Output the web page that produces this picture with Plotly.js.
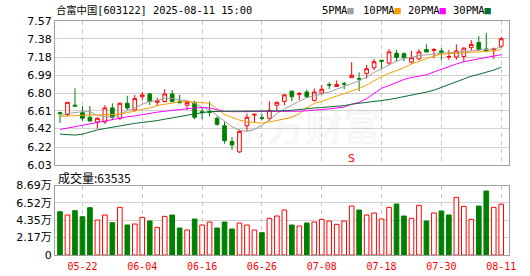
<!DOCTYPE html>
<html><head><meta charset="utf-8">
<script src="https://cdn.plot.ly/plotly-3.0.1.min.js"></script>
<style>html,body{margin:0;padding:0;background:#fff}#chart{width:530px;height:276px}</style>
</head><body><div id="chart"></div>
<script>
const dates = ['05-19','05-20','05-21','05-22','05-23','05-26','05-27','05-28','05-29','05-30',
'06-03','06-04','06-05','06-06','06-09','06-10','06-11','06-12','06-13','06-16',
'06-17','06-18','06-19','06-20','06-23','06-24','06-25','06-26','06-27','06-30',
'07-01','07-02','07-03','07-04','07-07','07-08','07-09','07-10','07-11','07-14',
'07-15','07-16','07-17','07-18','07-21','07-22','07-23','07-24','07-25','07-28',
'07-29','07-30','07-31','08-01','08-04','08-05','08-06','08-07','08-08','08-11'];

const openP = [6.59,6.57,6.67,6.59,6.54,6.49,6.49,6.64,6.53,6.69,
6.62,6.76,6.79,6.70,6.71,6.79,6.71,6.67,6.69,6.60,
6.60,6.53,6.45,6.28,6.17,6.45,6.565,6.535,6.53,6.67,
6.71,6.82,6.785,6.81,6.72,6.80,6.89,6.87,6.90,6.964,
6.955,7.01,7.07,7.15,7.12,7.225,7.22,7.13,7.165,7.265,
7.255,7.25,7.185,7.185,7.19,7.285,7.34,7.27,7.26,7.30];
const highP = [6.60,6.70,6.85,6.66,6.66,6.54,6.67,6.69,6.70,6.77,
6.78,6.81,6.80,6.75,6.84,6.83,6.78,6.72,6.72,6.65,
6.71,6.55,6.49,6.33,6.41,6.58,6.575,6.58,6.71,6.71,
6.79,6.82,6.81,6.835,6.85,6.885,6.915,6.935,6.92,7.13,
7.02,7.10,7.165,7.155,7.27,7.26,7.235,7.25,7.27,7.32,
7.28,7.28,7.26,7.32,7.29,7.365,7.41,7.44,7.285,7.40];
const lowP = [6.48,6.55,6.66,6.50,6.50,6.42,6.47,6.51,6.51,6.62,
6.60,6.72,6.67,6.66,6.70,6.70,6.69,6.62,6.52,6.52,
6.55,6.45,6.26,6.19,6.16,6.39,6.49,6.51,6.50,6.61,
6.67,6.71,6.725,6.745,6.71,6.78,6.84,6.865,6.84,6.96,
6.82,6.955,7.045,7.055,7.10,7.135,7.14,7.115,7.15,7.235,
7.17,7.15,7.155,7.155,7.13,7.25,7.25,7.235,7.165,7.285];
const closeP = [6.58,6.70,6.66,6.53,6.50,6.53,6.64,6.54,6.69,6.64,
6.74,6.78,6.71,6.72,6.79,6.71,6.695,6.70,6.54,6.59,
6.595,6.465,6.29,6.245,6.39,6.54,6.572,6.53,6.615,6.70,
6.78,6.76,6.795,6.76,6.81,6.84,6.885,6.89,6.895,6.99,
6.95,7.06,7.135,7.14,7.24,7.18,7.175,7.18,7.24,7.238,
7.265,7.235,7.19,7.25,7.28,7.32,7.265,7.255,7.27,7.38];

const ma5 = [6.56,6.58,6.59,6.60,6.60,6.56,6.55,6.54,6.57,6.61,
6.64,6.68,6.71,6.72,6.745,6.74,6.725,6.72,6.69,6.65,
6.62,6.56,6.50,6.44,6.40,6.39,6.41,6.455,6.51,6.58,
6.63,6.67,6.71,6.75,6.77,6.79,6.81,6.84,6.87,6.90,
6.93,6.97,7.02,7.06,7.10,7.14,7.17,7.18,7.20,7.21,
7.22,7.225,7.23,7.235,7.24,7.25,7.26,7.265,7.27,7.29];
const ma10 = [6.55,6.555,6.557,6.56,6.565,6.565,6.568,6.57,6.575,6.59,
6.61,6.625,6.64,6.665,6.68,6.695,6.705,6.71,6.705,6.70,
6.69,6.63,6.57,6.54,6.51,6.49,6.48,6.478,6.49,6.505,
6.52,6.54,6.58,6.64,6.69,6.71,6.74,6.765,6.795,6.82,
6.85,6.885,6.93,6.975,7.01,7.04,7.07,7.11,7.14,7.17,
7.195,7.215,7.22,7.223,7.227,7.23,7.235,7.24,7.25,7.265];
const ma20 = [6.41,6.425,6.44,6.46,6.475,6.49,6.50,6.515,6.53,6.545,
6.555,6.57,6.58,6.595,6.605,6.615,6.625,6.635,6.64,6.645,
6.64,6.62,6.605,6.60,6.60,6.60,6.60,6.60,6.60,6.60,
6.60,6.60,6.605,6.61,6.615,6.62,6.63,6.64,6.65,6.68,
6.70,6.74,6.80,6.85,6.88,6.91,6.945,6.965,6.98,6.995,
7.025,7.055,7.085,7.11,7.135,7.15,7.165,7.18,7.19,7.21];
const ma30 = [6.36,6.357,6.35,6.36,6.385,6.405,6.42,6.435,6.445,6.465,
6.475,6.485,6.493,6.505,6.52,6.535,6.55,6.565,6.58,6.59,
6.60,6.605,6.605,6.605,6.605,6.605,6.605,6.605,6.605,6.605,
6.61,6.615,6.625,6.635,6.64,6.645,6.65,6.655,6.665,6.68,
6.69,6.70,6.705,6.715,6.73,6.745,6.76,6.775,6.795,6.81,
6.83,6.86,6.89,6.925,6.955,6.98,7.00,7.02,7.045,7.075];

const volume = [54100,50000,55400,47900,59200,43750,50000,40400,59600,37500,
38750,47100,42500,34600,48300,50000,33750,31250,45000,37500,
41250,33750,41250,32500,40000,37500,31250,27900,45800,48750,
56250,37500,36250,40000,41250,44600,42500,38300,42500,61250,
56250,50000,52500,45000,59600,63750,48750,45800,62100,42500,
52500,55000,50000,72100,60800,44600,61250,80000,59600,63535];

const priceTicks = [6.03,6.22,6.42,6.61,6.80,6.99,7.18,7.38,7.57];
const priceTickText = ['6.03','6.22','6.42','6.61','6.80','6.99','7.18','7.38','7.57'];
const volTicks = [0,21725,43450,65175,86900];
const volTickText = ['0','2.17万','4.35万','6.52万','8.69万'];
const dateTicks = ['05-22','06-04','06-16','06-26','07-08','07-18','07-30','08-11'];
const maNames = ['5PMA','10PMA','20PMA','30PMA'];
const titleText = '合富中国[603122] 2025-08-11 15:00';
const volLabel = '成交量:63535';
const signalDate = '07-14';
const signalText = 'S';
const watermark = '东方财富';

const RED = '#ff0000', GREEN = '#008000';
const maColors = ['#a0a0a0','#f5a000','#ff00ff','#0a6e32'];
const W = 530, H = 276, ML = 55, MR = 21, MT = 21, MB = 21;
const PW = W - ML - MR, PH = H - MT - MB;
const px = x => (x - ML) / PW;
const py = y => (H - MB - y) / PH;

const up = closeP.map((c, i) => i === 0 ? c >= openP[0] : c >= closeP[i - 1]);

const traces = [
  {type:'candlestick', x:dates, open:openP, high:highP, low:lowP, close:closeP,
   xaxis:'x', yaxis:'y', whiskerwidth:0, hoverinfo:'skip', showlegend:false,
   increasing:{line:{color:RED,width:1}, fillcolor:'#ffffff'},
   decreasing:{line:{color:GREEN,width:1}, fillcolor:GREEN}}
];
[ma5, ma10, ma20, ma30].forEach((m, k) => traces.push({
  type:'scatter', mode:'lines', x:dates, y:m, xaxis:'x', yaxis:'y',
  line:{color:maColors[k], width:1}, hoverinfo:'skip', showlegend:false
}));
traces.push({
  type:'bar', x:dates, y:volume, xaxis:'x2', yaxis:'y2', width:0.62,
  marker:{color:up.map(u => u ? '#ffffff' : GREEN),
          line:{color:up.map(u => u ? RED : GREEN), width:1}},
  hoverinfo:'skip', showlegend:false
});

const tickFont = {family:'DejaVu Sans, Noto Sans CJK SC', size:11, color:'#000'};
const xCommon = {type:'category', range:[-0.67, 60.04], tickvals:dateTicks,
  showgrid:true, gridcolor:'#c4c4c4', griddash:'4px,4px', gridwidth:1,
  showline:true, mirror:true, linecolor:'#a0a0a0', linewidth:1, ticks:'',
  zeroline:false, fixedrange:true};

const annotations = [
  {xref:'paper', yref:'paper', x:px(305), y:py(95), text:watermark, showarrow:false,
   font:{family:'Noto Sans CJK SC', size:38, color:'rgba(0,0,0,0.045)', weight:'bold'}},
  {xref:'paper', yref:'paper', x:px(54), y:py(10), xanchor:'left', yanchor:'middle',
   text:titleText, showarrow:false,
   font:{family:'DejaVu Sans Mono, Noto Sans CJK SC', size:10.3, color:'#000'}},
  {xref:'paper', yref:'paper', x:px(56), y:py(177), xanchor:'left', yanchor:'middle',
   text:volLabel, showarrow:false,
   font:{family:'Noto Sans CJK SC', size:12, color:'#000'}},
  {xref:'x', yref:'y', x:signalDate, y:6.10, text:signalText, showarrow:false,
   font:{family:'DejaVu Sans', size:11, color:RED}}
];
const legX = [320, 361, 406, 451];
maNames.forEach((n, k) => annotations.push({
  xref:'paper', yref:'paper', x:px(legX[k]), y:py(10), xanchor:'left', yanchor:'middle',
  showarrow:false,
  text:n + '<span style="color:' + maColors[k] + '">■</span>',
  font:{family:'DejaVu Sans Mono', size:10.5, color:'#000'}
}));

const layout = {
  width:W, height:H, margin:{l:ML, r:MR, t:MT, b:MB, pad:0},
  paper_bgcolor:'#ffffff', plot_bgcolor:'#ffffff', showlegend:false,
  xaxis:Object.assign({}, xCommon, {anchor:'y', showticklabels:false, rangeslider:{visible:false}}),
  xaxis2:Object.assign({}, xCommon, {anchor:'y2', matches:'x', showticklabels:true,
    ticktext:dateTicks, tickfont:{family:'DejaVu Sans Mono', size:10, color:RED},
    ticklabelstandoff:2}),
  yaxis:{domain:[(H - MB - 165) / PH, 1], range:[6.03, 7.57], tickvals:priceTicks,
    ticktext:priceTickText, showgrid:true, gridcolor:'#d2d2d2', showline:true, mirror:true,
    linecolor:'#a0a0a0', ticks:'', zeroline:false, tickfont:tickFont, fixedrange:true},
  yaxis2:{domain:[0, (H - MB - 185.5) / PH], range:[0, 86900], tickvals:volTicks,
    ticktext:volTickText, showgrid:true, gridcolor:'#d2d2d2', showline:true, mirror:true,
    linecolor:'#a0a0a0', ticks:'', zeroline:false, tickfont:tickFont, fixedrange:true},
  bargap:0.3,
  annotations:annotations
};

Plotly.newPlot('chart', traces, layout, {staticPlot:true, displayModeBar:false});
</script></body></html>
